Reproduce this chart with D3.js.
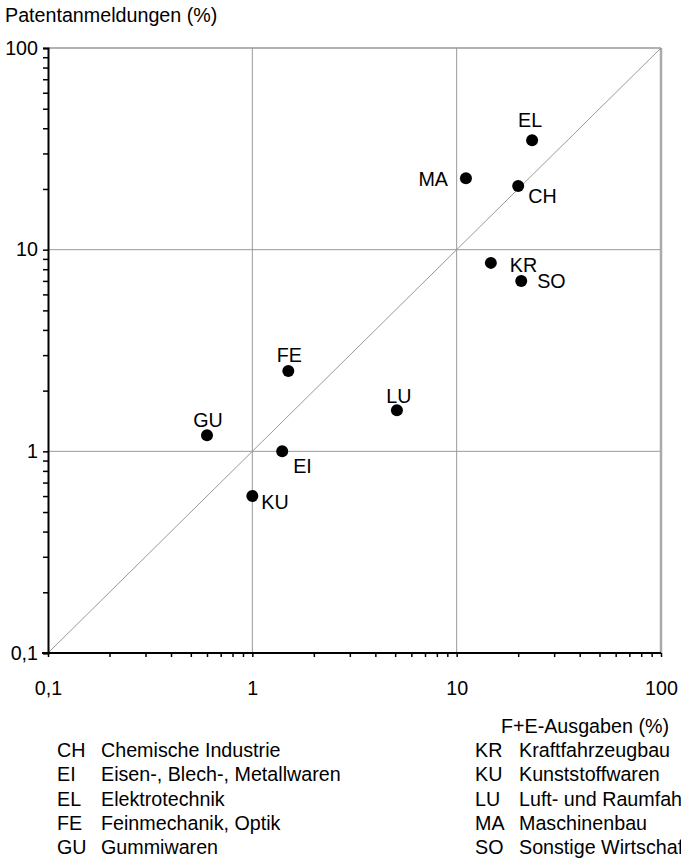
<!DOCTYPE html>
<html>
<head>
<meta charset="utf-8">
<script src="https://cdn.jsdelivr.net/npm/d3@7"></script>
<style>
  html, body { margin: 0; padding: 0; background: #fff; }
  svg { display: block; font-family: "Liberation Sans", Arial, sans-serif; }
</style>
</head>
<body>
<svg id="chart" width="681" height="859"></svg>
<script>
// ---- data ----
const codes = ["CH", "EI", "EL", "FE", "GU", "KR", "KU", "LU", "MA", "SO"];
const names = ["Chemische Industrie", "Eisen-, Blech-, Metallwaren", "Elektrotechnik",
  "Feinmechanik, Optik", "Gummiwaren", "Kraftfahrzeugbau", "Kunststoffwaren",
  "Luft- und Raumfahrt", "Maschinenbau", "Sonstige Wirtschaftszweige"];
const feAusgaben = [20.0, 1.4, 23.4, 1.5, 0.6, 14.7, 1.0, 5.1, 11.1, 20.7];
const patente = [20.7, 1.0, 34.9, 2.5, 1.2, 8.6, 0.6, 1.6, 22.6, 7.0];
const decadeTicks = [0.1, 1, 10, 100];
const tickLabels = ["0,1", "1", "10", "100"];
const xTitle = "F+E-Ausgaben (%)";
const yTitle = "Patentanmeldungen (%)";

// ---- layout (not data) ----
const labelPlacement = {
  CH: { anchor: "start", dx: 10, dy: 17 },
  EI: { anchor: "start", dx: 11, dy: 22 },
  EL: { anchor: "middle", dx: -2, dy: -13 },
  FE: { anchor: "middle", dx: 1, dy: -9 },
  GU: { anchor: "middle", dx: 1, dy: -8 },
  KR: { anchor: "start", dx: 19, dy: 9 },
  KU: { anchor: "start", dx: 9, dy: 13 },
  LU: { anchor: "middle", dx: 2, dy: -7 },
  MA: { anchor: "end", dx: -18, dy: 8 },
  SO: { anchor: "start", dx: 16, dy: 7 }
};
const FS = 19.7;

const svg = d3.select("#chart");
const x = d3.scaleLog().domain([0.1, 100]).range([48, 661]);
const y = d3.scaleLog().domain([0.1, 100]).range([653, 48]);

// all ticks (minor + major)
const allTicks = [];
[0.1, 1, 10].forEach(d => { for (let k = 1; k < 10; k++) allTicks.push(+(d * k).toPrecision(3)); });
allTicks.push(100);
const fmt = v => { const i = decadeTicks.indexOf(v); return i >= 0 ? tickLabels[i] : ""; };

// grid lines
const gridColor = "#999";
const g = svg.append("g");
[1, 10].forEach(v => {
  g.append("line").attr("x1", x(v)).attr("x2", x(v)).attr("y1", y(100)).attr("y2", y(0.1))
    .attr("stroke", gridColor).attr("stroke-width", 1);
  g.append("line").attr("x1", x(0.1)).attr("x2", x(100)).attr("y1", y(v)).attr("y2", y(v))
    .attr("stroke", gridColor).attr("stroke-width", 1);
});
// top border
g.append("line").attr("x1", x(0.1)).attr("x2", x(100)).attr("y1", y(100)).attr("y2", y(100))
  .attr("stroke", gridColor).attr("stroke-width", 1.5);
// right border
g.append("line").attr("x1", x(100)).attr("x2", x(100)).attr("y1", y(100)).attr("y2", y(0.1))
  .attr("stroke", "#aaa").attr("stroke-width", 2.5);
// diagonal
g.append("line").attr("x1", x(0.1)).attr("y1", y(0.1)).attr("x2", x(100)).attr("y2", y(100))
  .attr("stroke", gridColor).attr("stroke-width", 1);

// axes
const xAxis = d3.axisBottom(x).tickValues(allTicks).tickFormat(fmt).tickSize(4).tickPadding(24);
const yAxis = d3.axisLeft(y).tickValues(allTicks).tickFormat(fmt).tickSize(5).tickPadding(5);

const gx = svg.append("g").attr("transform", `translate(0,${y(0.1)})`).call(xAxis);
const gy = svg.append("g").attr("transform", `translate(${x(0.1)},0)`).call(yAxis);
[gx, gy].forEach(a => {
  a.select(".domain").attr("stroke", "#000").attr("stroke-width", 2);
  a.selectAll(".tick line").attr("stroke", "#000").attr("stroke-width", 1.5);
  a.selectAll(".tick text").attr("font-size", FS).attr("fill", "#000")
    .attr("font-family", "Liberation Sans, Arial, sans-serif");
});
gx.select(".domain").attr("d", `M${x(0.1) - 6},0H${x(100)}`);

// axis titles
svg.append("text").attr("x", 5).attr("y", 22).attr("font-size", FS).text(yTitle);
svg.append("text").attr("x", 669).attr("y", 733).attr("text-anchor", "end")
  .attr("font-size", FS).text(xTitle);

// points
const pts = codes.map((c, i) => ({ code: c, xv: feAusgaben[i], yv: patente[i] }));
svg.append("g").selectAll("circle").data(pts).join("circle")
  .attr("cx", d => x(d.xv)).attr("cy", d => y(d.yv)).attr("r", 6).attr("fill", "#000");
svg.append("g").selectAll("text").data(pts).join("text")
  .attr("x", d => x(d.xv) + labelPlacement[d.code].dx)
  .attr("y", d => y(d.yv) + labelPlacement[d.code].dy)
  .attr("text-anchor", d => labelPlacement[d.code].anchor)
  .attr("font-size", FS).text(d => d.code);

// legend (right column runs past the page edge, as in the original)
const leg = svg.append("g");
codes.forEach((c, i) => {
  const col = Math.floor(i / 5), row = i % 5;
  const x0 = col === 0 ? 57 : 475;
  const yb = 757 + row * 24.3;
  leg.append("text").attr("x", x0).attr("y", yb).attr("font-size", FS).text(c);
  leg.append("text").attr("x", x0 + 44).attr("y", yb).attr("font-size", FS).text(names[i]);
});
</script>
</body>
</html>
